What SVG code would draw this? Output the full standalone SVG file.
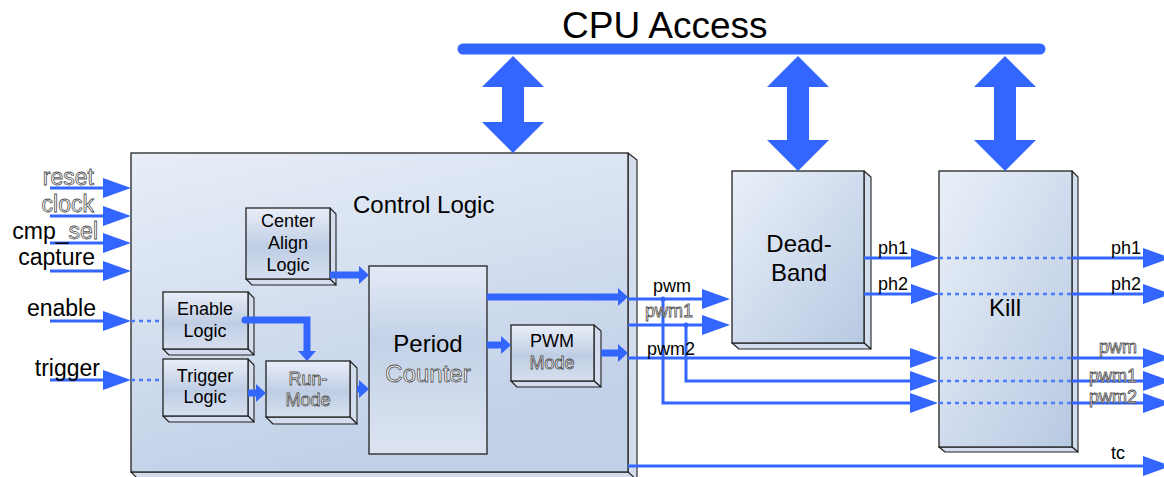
<svg xmlns="http://www.w3.org/2000/svg" width="1164" height="477" viewBox="0 0 1164 477">
<defs>
<linearGradient id="gBig" x1="0" y1="0" x2="0.35" y2="1"><stop offset="0" stop-color="#E8EEF8"/><stop offset="1" stop-color="#C0D0E7"/></linearGradient>
<linearGradient id="gDiag" x1="0" y1="0" x2="1" y2="1"><stop offset="0" stop-color="#EAF0F9"/><stop offset="1" stop-color="#B7C9E2"/></linearGradient>
<linearGradient id="gSmall" x1="0" y1="0" x2="0" y2="1"><stop offset="0" stop-color="#E9EEF8"/><stop offset="0.55" stop-color="#BFCDE4"/><stop offset="1" stop-color="#D6E0EF"/></linearGradient>
<linearGradient id="gPC" x1="0" y1="0" x2="0" y2="1"><stop offset="0" stop-color="#E4EAF6"/><stop offset="0.4" stop-color="#C3D1E7"/><stop offset="1" stop-color="#DCE4F1"/></linearGradient>
<marker id="ah" markerUnits="userSpaceOnUse" markerWidth="28" markerHeight="20" refX="0" refY="10" orient="auto"><path d="M0,0 L28,10 L0,20 z" fill="#3366FF"/></marker>
<marker id="at" markerUnits="userSpaceOnUse" markerWidth="10" markerHeight="18" refX="0" refY="9" orient="auto"><path d="M0,0 L10,9 L0,18 z" fill="#3366FF"/></marker>
<style>
text{font-family:"Liberation Sans",Arial,sans-serif;fill:#000}
.lbl{font-size:23px}
.big{font-size:24px}
.sm{font-size:18px}
.sig{font-size:18px}
.hol{fill:#ffffff;stroke:#505050;stroke-width:0.8}
.face{stroke:#222;stroke-width:1.3}
.side{fill:#D3DDEE;stroke:#222;stroke-width:1.1;stroke-linejoin:round}
.thin{fill:none;stroke:#3366FF;stroke-width:3}
.thick{fill:none;stroke:#3366FF;stroke-width:7}
.dash{fill:none;stroke:#4D7BFF;stroke-width:2.5;stroke-dasharray:4 4}
.dbl{fill:#3366FF}
</style>
</defs>
<rect width="1164" height="477" fill="#fff"/>

<g id="cpu-bus">
<text x="562" y="38" style="font-size:37px">CPU Access</text>
<line x1="463" y1="49" x2="1040" y2="49" stroke="#3366FF" stroke-width="11" stroke-linecap="round"/>
</g>

<g id="control-logic">
<polygon class="side" points="628,153 637,160 637,482 628,475"/>
<polygon class="side" points="131,472 628,472 637,480 139,480"/>
<rect class="face" x="131" y="153" width="497" height="319" fill="url(#gBig)"/>
<text class="big" x="353" y="213">Control Logic</text>
</g>

<g id="center-align">
<polygon class="side" points="330,208 336,214 336,285 330,279"/>
<polygon class="side" points="246,279 330,279 336,285 252,285"/>
<rect class="face" x="246" y="208" width="84" height="71" fill="url(#gSmall)"/>
<text class="sm" x="288" y="227" text-anchor="middle">Center</text>
<text class="sm" x="288" y="249" text-anchor="middle">Align</text>
<text class="sm" x="288" y="271" text-anchor="middle">Logic</text>
</g>

<g id="enable-logic">
<polygon class="side" points="248,292 254,298 254,355 248,349"/>
<polygon class="side" points="163,349 248,349 254,355 169,355"/>
<rect class="face" x="163" y="292" width="85" height="57" fill="url(#gSmall)"/>
<text class="sm" x="205" y="315" text-anchor="middle">Enable</text>
<text class="sm" x="205" y="337" text-anchor="middle">Logic</text>
</g>

<g id="trigger-logic">
<polygon class="side" points="248,359 254,365 254,422 248,416"/>
<polygon class="side" points="163,416 248,416 254,422 169,422"/>
<rect class="face" x="163" y="359" width="85" height="57" fill="url(#gSmall)"/>
<text class="sm" x="205" y="382" text-anchor="middle">Trigger</text>
<text class="sm" x="205" y="403" text-anchor="middle">Logic</text>
</g>

<g id="run-mode">
<polygon class="side" points="350,361 357,368 357,424 350,417"/>
<polygon class="side" points="266,417 350,417 357,424 273,424"/>
<rect class="face" x="266" y="361" width="84" height="56" fill="url(#gSmall)"/>
<text class="sm hol" x="308" y="385" text-anchor="middle">Run-</text>
<text class="sm hol" x="308" y="406" text-anchor="middle">Mode</text>
</g>

<g id="period-counter">
<rect class="face" x="369" y="266" width="118" height="188" fill="url(#gPC)"/>
<text class="big" x="428" y="352" text-anchor="middle">Period</text>
<text class="big hol" x="428" y="382" text-anchor="middle">Counter</text>
</g>

<g id="pwm-mode">
<polygon class="side" points="594,325 601,331 601,387 594,381"/>
<polygon class="side" points="511,381 594,381 601,387 517,387"/>
<rect class="face" x="511" y="325" width="83" height="56" fill="url(#gSmall)"/>
<text class="sm" x="552" y="347" text-anchor="middle">PWM</text>
<text class="sm hol" x="552" y="369" text-anchor="middle">Mode</text>
</g>

<g id="dead-band">
<polygon class="side" points="864,171 871,177 871,349 864,343"/>
<polygon class="side" points="732,343 864,343 871,349 739,349"/>
<rect class="face" x="732" y="171" width="132" height="172" fill="url(#gDiag)"/>
<text class="big" x="799" y="252" text-anchor="middle">Dead-</text>
<text class="big" x="799" y="281" text-anchor="middle">Band</text>
</g>

<g id="kill">
<polygon class="side" points="1072,171 1078,177 1078,452 1072,447"/>
<polygon class="side" points="939,447 1072,447 1078,452 945,452"/>
<rect class="face" x="939" y="171" width="133" height="276" fill="url(#gDiag)"/>
<text class="big" x="1005" y="316" text-anchor="middle">Kill</text>
</g>

<g id="connectors">
<polygon class="dbl" points="513,56 544,87 524,87 524,122 544,122 513,153 482,122 502,122 502,87 482,87"/>
<polygon class="dbl" points="798,56 829,87 809,87 809,140 829,140 798,171 767,140 787,140 787,87 767,87"/>
<polygon class="dbl" points="1005,56 1036,87 1016,87 1016,140 1036,140 1005,171 974,140 994,140 994,87 974,87"/>

<line class="thin" x1="50" y1="188" x2="103" y2="188" marker-end="url(#ah)"/>
<line class="thin" x1="50" y1="216" x2="103" y2="216" marker-end="url(#ah)"/>
<line class="thin" x1="50" y1="243" x2="103" y2="243" marker-end="url(#ah)"/>
<line class="thin" x1="50" y1="271" x2="103" y2="271" marker-end="url(#ah)"/>
<line class="thin" x1="50" y1="321" x2="103" y2="321" marker-end="url(#ah)"/>
<line class="dash" x1="131" y1="321" x2="163" y2="321"/>
<line class="thin" x1="50" y1="380" x2="103" y2="380" marker-end="url(#ah)"/>
<line class="dash" x1="131" y1="380" x2="163" y2="380"/>

<line class="thick" x1="330" y1="275" x2="359" y2="275" marker-end="url(#at)"/>
<path class="thick" d="M245,320 H307 V351" stroke-linecap="round" marker-end="url(#at)"/>
<line class="thick" x1="248" y1="393" x2="256" y2="393" marker-end="url(#at)"/>
<line class="thick" x1="357" y1="389" x2="359" y2="389" marker-end="url(#at)"/>
<line class="thick" x1="487" y1="297" x2="618" y2="297" marker-end="url(#at)"/>
<line class="thick" x1="487" y1="345" x2="501" y2="345" marker-end="url(#at)"/>
<line class="thick" x1="601" y1="353" x2="618" y2="353" marker-end="url(#at)"/>

<line class="thin" x1="628" y1="299" x2="702" y2="299" marker-end="url(#ah)"/>
<line class="thin" x1="628" y1="325" x2="702" y2="325" marker-end="url(#ah)"/>
<line class="thin" x1="628" y1="358" x2="910" y2="358" marker-end="url(#ah)"/>
<path class="thin" d="M663,299 V403 H910" marker-end="url(#ah)"/>
<path class="thin" d="M686,325 V381 H910" marker-end="url(#ah)"/>
<circle cx="663" cy="299" r="2.5" fill="#3366FF"/>
<circle cx="686" cy="325" r="2.5" fill="#3366FF"/>

<line class="thin" x1="864" y1="258" x2="911" y2="258" marker-end="url(#ah)"/>
<line class="thin" x1="864" y1="294" x2="911" y2="294" marker-end="url(#ah)"/>

<line class="dash" x1="939" y1="258" x2="1072" y2="258"/>
<line class="dash" x1="939" y1="294" x2="1072" y2="294"/>
<line class="dash" x1="939" y1="358" x2="1072" y2="358"/>
<line class="dash" x1="939" y1="381" x2="1072" y2="381"/>
<line class="dash" x1="939" y1="403" x2="1072" y2="403"/>

<line class="thin" x1="1072" y1="258" x2="1143" y2="258" marker-end="url(#ah)"/>
<line class="thin" x1="1072" y1="294" x2="1143" y2="294" marker-end="url(#ah)"/>
<line class="thin" x1="1072" y1="358" x2="1143" y2="358" marker-end="url(#ah)"/>
<line class="thin" x1="1072" y1="381" x2="1143" y2="381" marker-end="url(#ah)"/>
<line class="thin" x1="1072" y1="403" x2="1143" y2="403" marker-end="url(#ah)"/>
<line class="thin" x1="628" y1="466" x2="1143" y2="466" marker-end="url(#ah)"/>
</g>

<g id="labels">
<text class="lbl hol" x="94" y="185" text-anchor="end">reset</text>
<text class="lbl hol" x="94" y="212" text-anchor="end">clock</text>
<text class="lbl" x="98" y="239" text-anchor="end">cmp_<tspan class="hol">sel</tspan></text>
<text class="lbl" x="95" y="265" text-anchor="end">capture</text>
<text class="lbl" x="96" y="316" text-anchor="end">enable</text>
<text class="lbl" x="100" y="376" text-anchor="end">trigger</text>

<text class="sig" x="653" y="292">pwm</text>
<text class="sig hol" x="645" y="317">pwm1</text>
<text class="sig" x="647" y="355">pwm2</text>
<text class="sig" x="878" y="254">ph1</text>
<text class="sig" x="878" y="290">ph2</text>
<text class="sig" x="1141" y="254" text-anchor="end">ph1</text>
<text class="sig" x="1141" y="290" text-anchor="end">ph2</text>
<text class="sig hol" x="1137" y="353" text-anchor="end">pwm</text>
<text class="sig hol" x="1137" y="382" text-anchor="end">pwm1</text>
<text class="sig hol" x="1137" y="403" text-anchor="end">pwm2</text>
<text class="sig" x="1111" y="459">tc</text>
</g>
</svg>
